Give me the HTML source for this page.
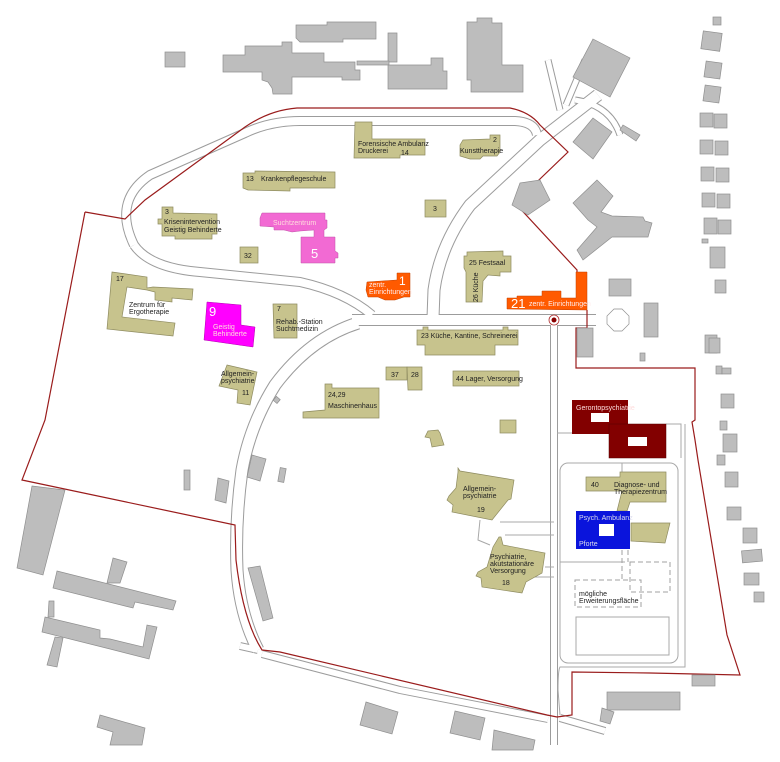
<!DOCTYPE html>
<html><head><meta charset="utf-8"><style>
html,body{margin:0;padding:0;background:#fff}
svg{display:block}
text{font-family:"Liberation Sans",sans-serif;font-size:7px;fill:#222}
.k{fill:#c7c38d;stroke:#8e8b60;stroke-width:.7}
.g{fill:#bdbdbd;stroke:#8f8f8f;stroke-width:.7}
.w{fill:#fff;font-size:7px}
.ro{fill:none;stroke:#9c9c9c;stroke-linejoin:round;stroke-linecap:butt}
.ri{fill:none;stroke:#fff;stroke-linejoin:round;stroke-linecap:butt}
.ln{fill:none;stroke:#a8a8a8;stroke-width:1}
</style></head><body>
<svg width="780" height="762" viewBox="0 0 780 762" xmlns="http://www.w3.org/2000/svg">
<!-- roads outer -->
<g class="ro">
<path stroke-width="10" d="M134,245 C118,212 128,190 150,175 L245,133 Q270,121 300,121 L515,121 Q535,122 537,135"/>
<path stroke-width="10" d="M134,245 Q150,268 200,272 L300,282 Q345,292 372,315"/>
<path stroke-width="13" d="M598,95 L540,140 L470,205 Q440,245 434,290 L433,318"/>
<path stroke-width="7" d="M566,105 L585,60 M560,110 L548,60 M575,100 Q610,105 620,135"/>
<path stroke-width="12" d="M352,320 L596,320"/>
<path stroke-width="13" d="M358,323 Q310,338 275,385 Q250,425 242,470 Q235,520 237,570 Q240,615 258,650"/>
<path stroke-width="8" d="M258,650 L240,646 M262,654 L400,690 L548,719"/>
<path stroke-width="8" d="M554,325 L554,745"/>
<path stroke-width="8" d="M560,718 L605,731"/>
</g>
<g class="ri">
<path stroke-width="8" d="M134,245 C118,212 128,190 150,175 L245,133 Q270,121 300,121 L515,121 Q535,122 537,135"/>
<path stroke-width="8" d="M134,245 Q150,268 200,272 L300,282 Q345,292 372,315"/>
<path stroke-width="11" d="M598,95 L540,140 L470,205 Q440,245 434,290 L433,318"/>
<path stroke-width="5" d="M566,105 L585,60 M560,110 L548,60 M575,100 Q610,105 620,135"/>
<path stroke-width="10" d="M352,320 L596,320"/>
<path stroke-width="11" d="M358,323 Q310,338 275,385 Q250,425 242,470 Q235,520 237,570 Q240,615 258,650"/>
<path stroke-width="6" d="M258,650 L240,646 M262,654 L400,690 L548,719"/>
<path stroke-width="6" d="M554,325 L554,745"/>
<path stroke-width="6" d="M560,718 L605,731"/>
</g>
<!-- service lines right -->
<path class="ln" d="M557,433 L572,433 M666,424 L681,424 L681,458"/>
<rect class="ln" x="560" y="463" width="118" height="200" rx="8"/>
<path class="ln" d="M685,424 L685,667 L560,667 Q558,670 558,690 L560,715"/>
<path class="ln" d="M560,562 L625,562"/>
<rect class="ln" x="576" y="617" width="93" height="38"/>
<path class="ln" d="M500,522 L554,522 M480,520 L478,540 L490,545 M505,535 L554,535 M529,577 L554,577 M545,567 L554,567 M622,463 L622,478"/>
<g fill="none" stroke="#a0a0a0" stroke-width="1" stroke-dasharray="5,3">
<rect x="575" y="580" width="66" height="27"/>
<rect x="630" y="562" width="40" height="30"/>
<path d="M622,550 L622,580 M628,550 L628,562"/>
</g>
<!-- boundary -->
<path fill="none" stroke="#9a1c1c" stroke-width="1.2" d="M85,212 L125,219 L145,200 L245,127 Q270,110 297,108 L510,108 Q530,112 540,125 L568,152 L515,203 L577,270 L577,272 M587,310 L587,328 L576,328 L576,368 L695,368 L695,420 L692,422 L695,440 L698,460 L727,635 L740,675 L650,673 L572,672 L572,715 L557,717 L547,715 L280,652 L262,650 Q243,620 236,560 L235,525 L22,480 L45,420 L85,212"/>
<!-- grey buildings -->
<g class="g">
<rect x="165" y="52" width="20" height="15"/>
<polygon points="223,55 245,55 245,46 282,46 282,42 292,42 292,53 324,53 324,62 355,62 355,70 360,70 360,80 342,80 342,77 292,77 292,94 273,94 272,88 268,82 262,80 262,72 223,72"/>
<polygon points="296,25 327,25 327,22 376,22 376,39 343,39 343,42 300,42 296,38"/>
<polygon points="388,33 397,33 397,62 388,62"/>
<rect x="357" y="61" width="32" height="4"/>
<polygon points="388,65 431,65 431,58 443,58 443,71 447,71 447,89 388,89"/>
<polygon points="467,22 477,22 477,18 492,18 492,23 502,23 502,65 523,65 523,92 471,92 471,80 467,80"/>
<polygon points="593,39 630,58 610,97 573,77"/>
<polygon points="593,118 612,132 593,159 573,142"/>
<polygon points="623,125 640,135 636,141 620,130"/>
<polygon points="520,183 540,180 550,200 528,215 512,205"/>
<polygon points="597,180 613,196 601,212 612,216 643,217 645,221 652,223 648,237 612,237 583,260 577,250 597,227 588,220 573,203"/>
<rect x="609" y="279" width="22" height="17"/>
<polygon fill="#fff" points="614,309 622,309 629,316 629,324 622,331 614,331 607,324 607,316" />
<rect x="644" y="303" width="14" height="34"/>
<rect x="577" y="328" width="16" height="29"/>
<rect x="640" y="353" width="5" height="8"/>
<rect x="713" y="17" width="8" height="8"/>
<rect x="702" y="32" width="19" height="18" transform="rotate(8 711 41)"/>
<rect x="705" y="62" width="16" height="16" transform="rotate(8 713 70)"/>
<rect x="704" y="86" width="16" height="16" transform="rotate(8 712 94)"/>
<rect x="700" y="113" width="13" height="14"/><rect x="714" y="114" width="13" height="14"/>
<rect x="700" y="140" width="13" height="14"/><rect x="715" y="141" width="13" height="14"/>
<rect x="701" y="167" width="13" height="14"/><rect x="716" y="168" width="13" height="14"/>
<rect x="702" y="193" width="13" height="14"/><rect x="717" y="194" width="13" height="14"/>
<rect x="704" y="218" width="13" height="16"/><rect x="718" y="220" width="13" height="14"/>
<rect x="702" y="239" width="6" height="4"/>
<rect x="710" y="247" width="15" height="21"/>
<rect x="715" y="280" width="11" height="13"/>
<rect x="705" y="335" width="12" height="18"/>
<rect x="709" y="338" width="11" height="15"/>
<rect x="716" y="366" width="6" height="8"/><rect x="722" y="368" width="9" height="6"/>
<rect x="721" y="394" width="13" height="14"/>
<rect x="720" y="421" width="7" height="9"/>
<rect x="723" y="434" width="14" height="18"/>
<rect x="717" y="455" width="8" height="10"/>
<rect x="725" y="472" width="13" height="15"/>
<rect x="727" y="507" width="14" height="13"/>
<rect x="743" y="528" width="14" height="15"/>
<rect x="742" y="550" width="20" height="12" transform="rotate(-5 752 556)"/>
<rect x="744" y="573" width="15" height="12"/>
<rect x="754" y="592" width="10" height="10"/>
<rect x="692" y="675" width="23" height="11"/>
<rect x="607" y="692" width="73" height="18"/>
<polygon points="602,708 614,712 610,724 600,721"/>
<polygon points="366,702 398,712 392,734 360,725"/>
<polygon points="455,711 485,718 480,740 450,733"/>
<polygon points="494,730 535,740 533,750 492,750"/>
<polygon points="100,715 145,728 142,745 110,745 113,732 97,727"/>
<polygon points="32,486 65,490 43,575 17,568"/>
<polygon points="57,571 176,601 173,610 135,602 133,608 53,588"/>
<polygon points="113,558 127,562 120,583 107,583"/>
<polygon points="45,617 100,630 100,638 110,639 143,647 147,625 157,627 149,659 110,649 42,632"/>
<polygon points="49,601 54,601 54,617 48,617"/>
<polygon points="55,637 63,638 57,667 47,665"/>
<polygon points="252,455 266,459 260,481 247,477"/>
<rect x="279" y="468" width="6" height="14" transform="rotate(10 282 475)"/>
<rect x="184" y="470" width="6" height="20"/>
<polygon points="218,478 229,481 226,503 215,500"/>
<polygon points="248,568 260,566 273,618 263,621"/>
<rect x="274" y="397" width="5" height="5" transform="rotate(40 276 400)"/>
</g>
<!-- khaki buildings -->
<g class="k">
<polygon points="355,122 372,122 372,139 425,139 425,155 400,155 400,158 354,158"/>
<polygon points="463,140 490,139 490,135 500,135 500,152 497,156 483,156 480,159 470,159 460,156 460,145"/>
<polygon points="243,173 255,173 255,171 335,172 335,188 290,188 290,191 248,190 243,188"/>
<rect x="425" y="200" width="21" height="17"/>
<polygon points="162,207 173,207 173,213 217,214 217,234 212,234 212,239 175,239 175,236 162,236 162,224 158,224 158,219 162,219"/>
<rect x="240" y="247" width="18" height="16"/>
<polygon points="112,272 147,277 147,288 153,287 193,289 192,300 172,298 172,302 155,300 155,292 147,290 127,287 122,317 175,323 173,336 107,329"/>
<polygon points="273,304 297,304 297,338 274,338"/>
<polygon points="467,252 503,251 503,256 511,256 511,272 500,272 500,276 488,275 483,281 482,302 466,302 466,272 464,268 464,256 467,256"/>
<polygon points="417,330 423,330 423,327 428,327 428,330 503,330 503,327 508,327 508,330 518,330 518,345 495,345 495,355 425,355 425,345 417,345"/>
<rect x="386" y="367" width="21" height="13"/>
<polygon points="407,367 422,367 422,390 408,390"/>
<rect x="453" y="371" width="66" height="15"/>
<polygon points="227,365 257,372 250,405 237,403 238,390 219,386"/>
<polygon points="325,384 332,384 332,388 379,388 379,418 303,418 303,412 325,410"/>
<rect x="500" y="420" width="16" height="13"/>
<polygon points="428,431 438,430 440,433 444,445 432,447 430,438 425,437"/>
<polygon points="458,468 460,471 514,480 511,499 508,500 492,520 452,512 453,505 447,500 449,496 456,488 458,472"/>
<polygon points="501,537 503,545 545,553 542,573 526,582 522,593 482,587 481,578 476,576 478,572 487,567 493,547 499,537"/>
<polygon points="586,477 620,477 620,472 666,472 666,502 630,502 627,511 617,511 622,491 586,491"/>
<polygon points="631,523 670,523 665,543 631,541"/>
</g>
<!-- colored -->
<polygon fill="#f26ad3" stroke="#c050a8" stroke-width=".5" points="262,213 325,213 325,220 327,220 327,228 324,230 324,237 335,237 335,251 338,253 338,258 335,258 335,263 301,263 301,237 314,237 314,230 300,231 292,232 284,230 274,230 274,227 260,226 260,218"/>
<polygon fill="#ff00ff" stroke="#b000b0" stroke-width=".5" points="207,302 241,305 241,325 255,327 253,347 204,340"/>
<polygon fill="#ff5a00" stroke="#c04000" stroke-width=".5" points="397,280 397,273 410,273 410,297 404,297 395,300 385,300 378,297 368,297 366,290 367,282"/>
<polygon fill="#ff5a00" stroke="#c04000" stroke-width=".5" points="576,272 587,272 587,310 507,309 507,298 517,298 517,296 542,296 542,291 561,291 561,298 576,298"/>
<rect x="572" y="400" width="56" height="34" fill="#820000"/>
<rect x="609" y="424" width="57" height="34" fill="#820000" stroke="#500" stroke-width=".5"/>
<rect x="591" y="413" width="18" height="9" fill="#fff"/>
<rect x="628" y="437" width="19" height="9" fill="#fff"/>
<rect x="576" y="511" width="54" height="38" fill="#0a14dc"/>
<rect x="599" y="524" width="15" height="12" fill="#fff"/>
<circle cx="554" cy="320" r="5" fill="#fff" stroke="#b03030" stroke-width=".8"/>
<circle cx="554" cy="320" r="2.5" fill="#8a0000"/>
<!-- labels -->
<text x="358" y="146">Forensische Ambulanz</text>
<text x="358" y="153">Druckerei</text>
<text x="401" y="155">14</text>
<text x="493" y="142">2</text>
<text x="460" y="153">Kunsttherapie</text>
<text x="246" y="181">13</text>
<text x="261" y="181">Krankenpflegeschule</text>
<text x="433" y="211">3</text>
<text x="165" y="214">3</text>
<text x="164" y="224">Krisenintervention</text>
<text x="164" y="232">Geistig Behinderte</text>
<text x="244" y="258">32</text>
<text x="273" y="225" style="fill:#fdd">Suchtzentrum</text>
<text x="311" y="258" style="fill:#fff;font-size:13px">5</text>
<text x="116" y="281">17</text>
<text x="129" y="307">Zentrum für</text>
<text x="129" y="314">Ergotherapie</text>
<text x="209" y="316" style="fill:#fff;font-size:13px">9</text>
<text x="213" y="329" style="fill:#fdd">Geistig</text>
<text x="213" y="336" style="fill:#fdd">Behinderte</text>
<text x="277" y="311">7</text>
<text x="276" y="324">Rehab.-Station</text>
<text x="276" y="331">Suchtmedizin</text>
<text x="399" y="285" style="fill:#fff;font-size:12px">1</text>
<text x="369" y="287" style="fill:#fee">zentr.</text>
<text x="369" y="294" style="fill:#fee">Einrichtungen</text>
<text x="469" y="265">25 Festsaal</text>
<text transform="translate(478,302) rotate(-90)">26 Küche</text>
<text x="511" y="308" style="fill:#fff;font-size:13px">21</text>
<text x="529" y="306" style="fill:#fee">zentr. Einrichtungen</text>
<text x="421" y="338">23 Küche, Kantine, Schreinerei</text>
<text x="391" y="377">37</text>
<text x="411" y="377">28</text>
<text x="456" y="381">44 Lager, Versorgung</text>
<text x="221" y="376">Allgemein-</text>
<text x="221" y="383">psychiatrie</text>
<text x="242" y="395">11</text>
<text x="328" y="397">24,29</text>
<text x="328" y="408">Maschinenhaus</text>
<text x="576" y="410" style="fill:#fdd">Gerontopsychiatrie</text>
<text x="463" y="491">Allgemein-</text>
<text x="463" y="498">psychiatrie</text>
<text x="477" y="512">19</text>
<text x="591" y="487">40</text>
<text x="614" y="487">Diagnose- und</text>
<text x="614" y="494">Therapiezentrum</text>
<text x="579" y="520" style="fill:#dde">Psych. Ambulanz</text>
<text x="579" y="546" style="fill:#dde">Pforte</text>
<text x="490" y="559">Psychiatrie,</text>
<text x="490" y="566">akutstationäre</text>
<text x="490" y="573">Versorgung</text>
<text x="502" y="585">18</text>
<text x="579" y="596">mögliche</text>
<text x="579" y="603">Erweiterungsfläche</text>
</svg>
</body></html>
